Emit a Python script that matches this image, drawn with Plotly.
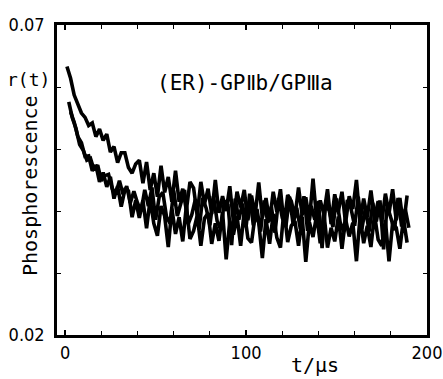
import plotly.graph_objects as go

# sample times (microseconds)
t_a = [1 + 2 * i for i in range(95)]
t_b = [2 + 2 * i for i in range(95)]
t_c = [3 + 2 * i for i in range(94)]

r_a = [0.0633, 0.0614, 0.0587, 0.0572, 0.0558, 0.0551, 0.0538, 0.0542, 0.0520, 0.0532,
       0.0514, 0.0524, 0.0495, 0.0504, 0.0478, 0.0494, 0.0494, 0.0470, 0.0461, 0.0476,
       0.0482, 0.0445, 0.0479, 0.0434, 0.0461, 0.0423, 0.0473, 0.0430, 0.0455, 0.0415,
       0.0465, 0.0415, 0.0436, 0.0401, 0.0447, 0.0437, 0.0394, 0.0447, 0.0411, 0.0436,
       0.0395, 0.0450, 0.0397, 0.0424, 0.0400, 0.0440, 0.0383, 0.0431, 0.0406, 0.0434,
       0.0385, 0.0425, 0.0393, 0.0446, 0.0389, 0.0421, 0.0383, 0.0431, 0.0399, 0.0435,
       0.0378, 0.0426, 0.0416, 0.0390, 0.0438, 0.0394, 0.0422, 0.0385, 0.0452, 0.0388,
       0.0417, 0.0395, 0.0435, 0.0379, 0.0427, 0.0399, 0.0431, 0.0381, 0.0424, 0.0403,
       0.0450, 0.0384, 0.0420, 0.0390, 0.0433, 0.0388, 0.0416, 0.0382, 0.0428, 0.0396,
       0.0435, 0.0385, 0.0421, 0.0377, 0.0425]

r_b = [0.0576, 0.0550, 0.0533, 0.0507, 0.0498, 0.0482, 0.0485, 0.0466, 0.0474, 0.0449,
       0.0457, 0.0459, 0.0436, 0.0428, 0.0449, 0.0427, 0.0440, 0.0413, 0.0432, 0.0413,
       0.0400, 0.0434, 0.0408, 0.0438, 0.0386, 0.0423, 0.0430, 0.0391, 0.0380, 0.0433,
       0.0392, 0.0415, 0.0434, 0.0379, 0.0394, 0.0419, 0.0370, 0.0421, 0.0404, 0.0377,
       0.0424, 0.0384, 0.0370, 0.0416, 0.0410, 0.0345, 0.0420, 0.0386, 0.0412, 0.0374,
       0.0428, 0.0377, 0.0403, 0.0367, 0.0417, 0.0381, 0.0407, 0.0365, 0.0421, 0.0389,
       0.0375, 0.0423, 0.0379, 0.0405, 0.0371, 0.0424, 0.0368, 0.0408, 0.0386, 0.0416,
       0.0340, 0.0412, 0.0400, 0.0374, 0.0420, 0.0382, 0.0366, 0.0418, 0.0404, 0.0376,
       0.0423, 0.0371, 0.0405, 0.0367, 0.0413, 0.0383, 0.0417, 0.0338, 0.0409, 0.0389,
       0.0369, 0.0421, 0.0375, 0.0403, 0.0373]

r_c = [0.0560, 0.0543, 0.0520, 0.0510, 0.0488, 0.0489, 0.0465, 0.0474, 0.0447, 0.0462,
       0.0439, 0.0455, 0.0420, 0.0440, 0.0407, 0.0434, 0.0432, 0.0390, 0.0417, 0.0389,
       0.0417, 0.0372, 0.0419, 0.0380, 0.0360, 0.0408, 0.0392, 0.0342, 0.0404, 0.0363,
       0.0390, 0.0351, 0.0408, 0.0355, 0.0368, 0.0393, 0.0344, 0.0388, 0.0397, 0.0347,
       0.0380, 0.0352, 0.0398, 0.0322, 0.0384, 0.0362, 0.0392, 0.0344, 0.0400, 0.0356,
       0.0349, 0.0393, 0.0381, 0.0324, 0.0387, 0.0347, 0.0395, 0.0357, 0.0341, 0.0403,
       0.0350, 0.0376, 0.0384, 0.0344, 0.0390, 0.0318, 0.0382, 0.0358, 0.0394, 0.0348,
       0.0397, 0.0341, 0.0373, 0.0351, 0.0391, 0.0339, 0.0387, 0.0359, 0.0381, 0.0319,
       0.0392, 0.0348, 0.0376, 0.0342, 0.0394, 0.0354, 0.0344, 0.0385, 0.0319, 0.0381,
       0.0373, 0.0339, 0.0387, 0.0349]

x_ticks = [0, 100, 200]
x_tick_labels = ["0", "100", "200"]
y_ticks = [0.02, 0.07]
y_tick_labels = ["0.02", "0.07"]

TICKFONT = "DejaVu Sans Condensed"
TEXTFONT = "DejaVu Sans Mono"

W, H = 443, 379
L, T, R, B = 57, 25, 16, 44
PW, PH = W - L - R, H - T - B


def px(x):
    return (x - L) / PW


def py(y):
    return (H - B - y) / PH


fig = go.Figure()
for tt, rr in [(t_a, r_a), (t_b, r_b), (t_c, r_c)]:
    fig.add_trace(go.Scatter(x=tt, y=rr, mode="lines",
                             line=dict(color="black", width=3.6),
                             showlegend=False, hoverinfo="skip"))

axis_common = dict(showgrid=False, zeroline=False, automargin=False,
                   showline=True, linecolor="black", linewidth=2.5, mirror="ticks",
                   ticks="inside", ticklen=5, tickwidth=1.5, tickcolor="black",
                   tickfont=dict(family=TICKFONT, size=18, color="black"))

fig.update_layout(
    width=W, height=H,
    margin=dict(l=L, r=R, t=T, b=B, autoexpand=False),
    paper_bgcolor="white", plot_bgcolor="white",
    font=dict(family=TEXTFONT, color="black", size=18),
    xaxis=dict(range=[-4.5, 200], tickvals=x_ticks, ticktext=x_tick_labels,
               minor=dict(dtick=20, tick0=0, ticks="inside", ticklen=4, tickwidth=1.2, tickcolor="black"),
               **axis_common),
    yaxis=dict(range=[0.02, 0.07], tickvals=y_ticks, ticktext=y_tick_labels,
               ticklabelstandoff=6,
               minor=dict(dtick=0.01, tick0=0.02, ticks="inside", ticklen=4, tickwidth=1.2, tickcolor="black"),
               **axis_common),
)

fig.add_annotation(text="(ER)-GPⅡb/GPⅢa", xref="paper", yref="paper",
                   x=px(245), y=py(83), showarrow=False,
                   font=dict(family=TEXTFONT, size=21), xanchor="center", yanchor="middle")
fig.add_annotation(text="Phosphorescence", xref="paper", yref="paper",
                   x=px(30), y=py(186), showarrow=False, textangle=-90,
                   font=dict(family=TEXTFONT, size=20), xanchor="center", yanchor="middle")
fig.add_annotation(text="r(t)", xref="paper", yref="paper",
                   x=px(28), y=py(80), showarrow=False,
                   font=dict(family=TEXTFONT, size=18), xanchor="center", yanchor="middle")
fig.add_annotation(text="t/μs", xref="paper", yref="paper",
                   x=px(315), y=py(365), showarrow=False,
                   font=dict(family=TEXTFONT, size=20), xanchor="center", yanchor="middle")

fig.write_html("out.html", config={"displayModeBar": False},
               post_script="document.body.style.margin='0px';document.body.style.overflow='hidden';")
